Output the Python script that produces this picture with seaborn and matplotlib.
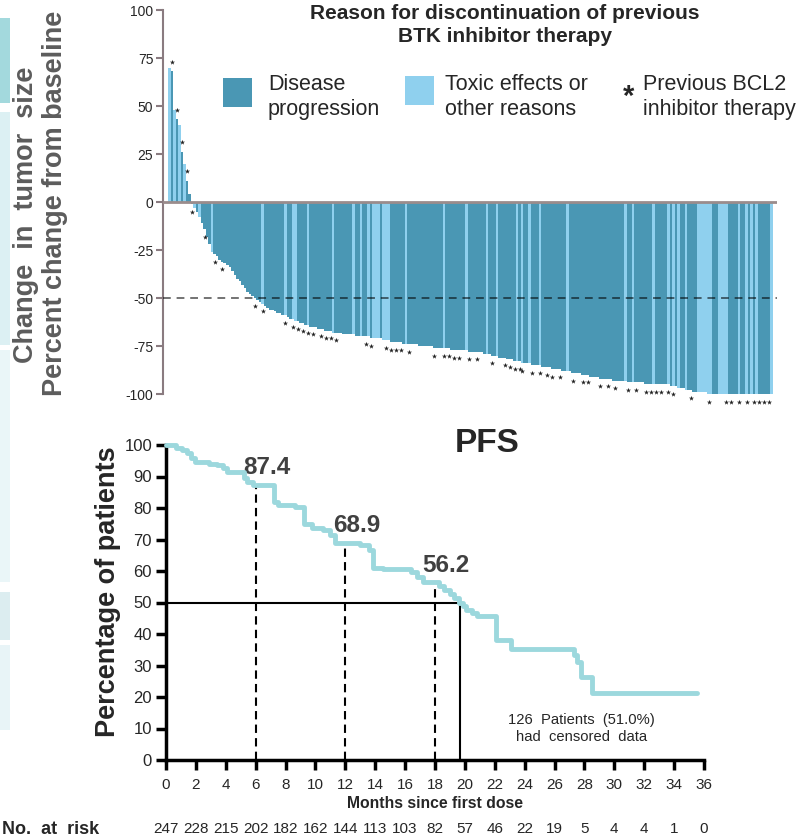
import numpy as np
import pandas as pd
import matplotlib
matplotlib.use("Agg")
import matplotlib.pyplot as plt
import seaborn as sns
from matplotlib.patches import Rectangle

# ------------------------------------------------------------
# Waterfall data (best % change from baseline, sorted)
# ------------------------------------------------------------
change_pct = [
    70, 68, 48, 43, 40, 26, 20, 11, 4, -1,
    -3, -5, -8, -11, -14, -18, -22, -26, -27, -28,
    -30, -31, -32, -33, -34, -36, -38, -40, -41, -43,
    -45, -47, -48, -49, -50, -51, -52, -53, -54, -55,
    -56, -56, -57, -58, -58, -59, -59, -60, -61, -61,
    -62, -62, -63, -63, -64, -64, -65, -65, -65, -66,
    -66, -66, -67, -67, -67, -68, -68, -68, -68, -69,
    -69, -69, -69, -69, -70, -70, -70, -70, -70, -70,
    -71, -71, -71, -71, -71, -72, -72, -72, -73, -73,
    -73, -73, -73, -74, -74, -74, -74, -74, -74, -75,
    -75, -75, -75, -75, -75, -76, -76, -76, -76, -76,
    -76, -76, -77, -77, -77, -77, -77, -77, -77, -78,
    -78, -78, -78, -78, -78, -79, -79, -79, -80, -80,
    -80, -81, -81, -81, -82, -82, -82, -83, -83, -83,
    -84, -84, -84, -84, -85, -85, -85, -85, -86, -86,
    -86, -86, -87, -87, -87, -87, -88, -88, -88, -88,
    -89, -89, -89, -89, -90, -90, -90, -91, -91, -91,
    -91, -92, -92, -92, -92, -92, -93, -93, -93, -93,
    -93, -93, -94, -94, -94, -94, -94, -94, -94, -95,
    -95, -95, -95, -95, -95, -95, -95, -95, -95, -96,
    -96, -96, -97, -97, -97, -98, -98, -98, -99, -99,
    -99, -99, -99, -99, -100, -100, -100, -100, -100, -100,
    -100, -100, -100, -100, -100, -100, -100, -100, -100, -100,
    -100, -100, -100, -100, -100, -100, -100, -100, -100, -100,
]
# patients who stopped BTKi for toxicity / other reasons
toxic_idx = [0, 2, 4, 6, 10, 12, 17, 37, 46, 49, 50, 55, 65, 73, 76, 79,
             81, 82, 83, 85, 86, 87, 94, 109, 118, 126, 130, 138, 140, 143,
             147, 158, 181, 184, 192, 198, 200, 202, 205, 210, 211, 212,
             213, 214, 215, 218, 219, 220, 221, 226, 229, 231, 233, 239]
# patients with previous BCL2 inhibitor therapy
bcl2_idx = [1, 3, 5, 7, 9, 14, 18, 21, 34, 37, 46, 49, 51, 53, 55, 57, 60,
            62, 64, 66, 78, 80, 86, 88, 90, 92, 95, 105, 109, 111, 113, 115,
            119, 122, 128, 133, 135, 137, 139, 140, 144, 147, 150, 152, 155,
            160, 164, 166, 171, 174, 177, 182, 185, 189, 191, 193, 195, 198,
            200, 207, 214, 221, 223, 226, 229, 232, 234, 236, 238]

reason_labels = ["Disease progression", "Toxic effects or other reasons"]

# ------------------------------------------------------------
# PFS Kaplan-Meier step data
# ------------------------------------------------------------
km_months = [0, 0.7, 1.1, 1.4, 1.7, 1.95, 2.9, 3.4, 3.8, 4.1, 5.2, 5.45,
             5.8, 7.25, 7.5, 8.6, 9.25, 9.8, 10.5, 11.0, 11.3, 13.0, 13.6,
             13.85, 14.5, 16.4, 16.8, 17.2, 18.3, 18.6, 19.0, 19.3, 19.6,
             19.9, 20.1, 20.5, 20.8, 22.1, 23.1, 27.3, 27.5, 27.8, 28.5, 35.5]
km_pfs = [100, 99.2, 98.4, 97.6, 96.0, 94.6, 94.1, 93.5, 92.6, 91.3, 89.6,
          88.2, 87.4, 82.0, 80.9, 80.4, 74.8, 73.8, 72.9, 71.3, 68.9, 68.2,
          66.6, 61.0, 60.6, 59.8, 58.0, 56.4, 55.3, 54.0, 52.7, 51.4, 50.0,
          49.0, 47.6, 46.6, 45.7, 38.1, 35.2, 33.4, 31.2, 26.4, 21.3, 21.3]

milestone_months = [6, 12, 18]
milestone_pfs = [87.4, 68.9, 56.2]
median_pfs = 19.7

risk_months = list(range(0, 38, 2))
at_risk = [247, 228, 215, 202, 182, 162, 144, 113, 103, 82, 57, 46, 22, 19,
           5, 4, 4, 1, 0]

# ------------------------------------------------------------
# Style
# ------------------------------------------------------------
sns.set_theme(style="white")
plt.rcParams["font.family"] = ["Liberation Sans", "DejaVu Sans"]
plt.rcParams["axes.unicode_minus"] = False

DARK = "#4a97b4"
LIGHT = "#8fd0ee"
SPINE = "#8a7b80"
KM_COLOR = "#9cd8dd"

fig = plt.figure(figsize=(8.05, 8.39), dpi=100)

# slide decoration strips on the left edge
for y0, y1, c in [(18, 103, "#a3d9dd"), (112, 345, "#dcf0f3"),
                  (350, 582, "#eaf6f8"), (592, 640, "#dcedf0"),
                  (645, 730, "#e8f4f7")]:
    fig.add_artist(Rectangle((0, 1 - y1 / 839), 10 / 805, (y1 - y0) / 839,
                             transform=fig.transFigure, color=c, lw=0,
                             zorder=-5))

# ============================================================
# Waterfall
# ============================================================
ax = fig.add_axes([163 / 805, 1 - 394 / 839, (777 - 163) / 805, 384 / 839])

df = pd.DataFrame({"idx": np.arange(len(change_pct)), "change": change_pct})
df["reason"] = reason_labels[0]
df.loc[df["idx"].isin(toxic_idx), "reason"] = reason_labels[1]

sns.barplot(data=df, x="idx", y="change", hue="reason",
            palette={reason_labels[0]: DARK, reason_labels[1]: LIGHT},
            dodge=False, width=1.0, linewidth=0, errorbar=None,
            saturation=1, legend=False, ax=ax, zorder=2)

mk = df[df["idx"].isin(bcl2_idx)].copy()
mk["y"] = np.where(mk["change"] > 0, mk["change"] + 5, mk["change"] - 4)
ax.scatter(mk["idx"], mk["y"], marker="*", s=15, color="#222222",
           linewidths=0, zorder=4, clip_on=False)

ax.axhline(0, color="#9a8c8c", lw=2, zorder=3)
ax.axhline(-50, color="black", alpha=0.55, lw=1.4, ls=(0, (4, 3)), zorder=3)

ax.set_xlim(-2.5, len(change_pct) - 0.5 + 1.6)
ax.set_ylim(-100, 100)
ax.set_xticks([])
ax.set_yticks(range(-100, 101, 25))
ax.set_yticklabels([str(v) for v in range(-100, 101, 25)], fontsize=10)
ax.set_xlabel("")
ax.set_ylabel("")
for s in ["top", "right", "bottom"]:
    ax.spines[s].set_visible(False)
ax.spines["left"].set_color(SPINE)
ax.spines["left"].set_linewidth(1.5)
ax.tick_params(axis="y", direction="out", length=5, width=1.5,
               color=SPINE, pad=2, left=True)

fig.text(505 / 805, 1 - 4 / 839,
         "Reason for discontinuation of previous\nBTK inhibitor therapy",
         ha="center", va="top", fontsize=15, fontweight="bold",
         linespacing=1.25)

fig.add_artist(Rectangle((223 / 805, 1 - 107 / 839), 29 / 805, 29 / 839,
                         transform=fig.transFigure, color=DARK, lw=0))
fig.add_artist(Rectangle((405 / 805, 1 - 105 / 839), 29 / 805, 29 / 839,
                         transform=fig.transFigure, color=LIGHT, lw=0))
fig.text(268 / 805, 1 - 74 / 839, "Disease\nprogression", ha="left",
         va="top", fontsize=15.5, linespacing=1.25)
fig.text(445 / 805, 1 - 74 / 839, "Toxic effects or\nother reasons",
         ha="left", va="top", fontsize=15.5, linespacing=1.25)
fig.text(629 / 805, 1 - 97 / 839, "*", ha="center", va="center",
         fontsize=21, fontweight="bold")
fig.text(643 / 805, 1 - 74 / 839, "Previous BCL2\ninhibitor therapy",
         ha="left", va="top", fontsize=15.5, linespacing=1.25)

fig.text(26 / 805, 1 - 215 / 839, "Change  in  tumor  size", rotation=90,
         ha="center", va="center", fontsize=19.5, fontweight="bold",
         color="#5c5c5c")
fig.text(55 / 805, 1 - 203 / 839, "Percent change from baseline",
         rotation=90, ha="center", va="center", fontsize=19.5,
         fontweight="bold", color="#5c5c5c")

# ============================================================
# PFS
# ============================================================
ax2 = fig.add_axes([166 / 805, 1 - 760 / 839, 538 / 805, 315 / 839])

for m, v in zip(milestone_months, milestone_pfs):
    ax2.plot([m, m], [0, v], color="black", lw=1.5, ls=(0, (4, 2.5)),
             zorder=2)
    ax2.text(m + 0.75, v + 5.5, f"{v:.1f}", ha="center", va="center",
             fontsize=17.5, fontweight="bold", color="#404040")
ax2.plot([0, median_pfs, median_pfs], [50, 50, 0], color="black", lw=1.5,
         zorder=2)

sns.lineplot(x=km_months, y=km_pfs, drawstyle="steps-post",
             estimator=None, sort=False, color=KM_COLOR, lw=3.5,
             ax=ax2, zorder=3, clip_on=False)

ax2.set_xlim(0, 36)
ax2.set_ylim(0, 100)
ax2.set_xticks(risk_months)
ax2.set_xticklabels([str(m) for m in risk_months], fontsize=11)
ax2.set_yticks(range(0, 101, 10))
ax2.set_yticklabels([str(v) for v in range(0, 101, 10)], fontsize=12)
for s in ["top", "right"]:
    ax2.spines[s].set_visible(False)
for s in ["left", "bottom"]:
    ax2.spines[s].set_color("black")
    ax2.spines[s].set_linewidth(2.5)
ax2.tick_params(axis="y", direction="out", length=7, width=2.5,
                color="black", left=True, pad=3)
ax2.tick_params(axis="x", direction="out", length=7, width=2.5,
                color="black", bottom=True, pad=6)

ax2.text(21.5, 100.5, "PFS", ha="center", va="center", fontsize=24,
         fontweight="bold", clip_on=False)
ax2.text(27.8, 10.0, "126  Patients  (51.0%)\nhad  censored  data",
         ha="center", va="center", fontsize=10.6, linespacing=1.3)

ax2.text(18, -0.137, "Months since first dose", ha="center", va="center",
         fontsize=11.3, fontweight="bold",
         transform=ax2.get_xaxis_transform())
for m, n in zip(risk_months, at_risk):
    ax2.text(m, -0.219, str(n), ha="center", va="center", fontsize=11,
             transform=ax2.get_xaxis_transform())
fig.text(2 / 805, 1 - 829 / 839, "No.  at  risk", ha="left", va="center",
         fontsize=13, fontweight="bold")
fig.text(108 / 805, 1 - 592 / 839, "Percentage of patients", rotation=90,
         ha="center", va="center", fontsize=19.5, fontweight="bold")

fig.savefig("out.png", dpi=100)
